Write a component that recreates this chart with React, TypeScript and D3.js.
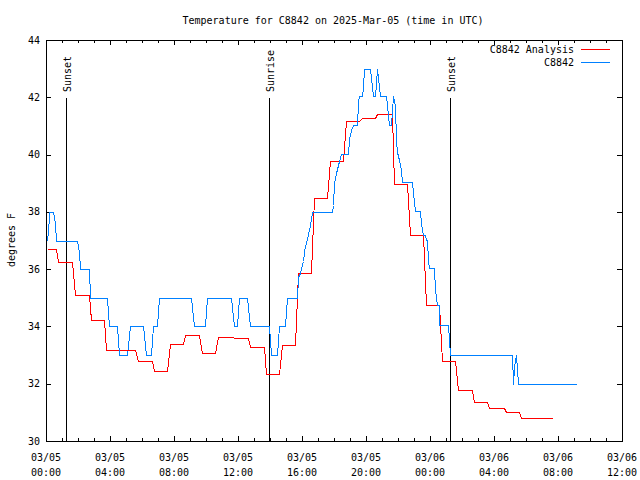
import React from 'react';
import * as d3 from 'd3';

const TITLE = 'Temperature for C8842 on 2025-Mar-05 (time in UTC)';
const Y_LABEL = 'degrees F';
const START = Date.UTC(2025, 2, 5, 0, 0);
const END = Date.UTC(2025, 2, 6, 12, 0);

// Observation series (C8842) — hours after 03/05 00:00 UTC
const obsHours = [
  0.08, 0.16, 0.21, 0.46, 0.54, 0.625, 1.96, 2.04, 2.125, 2.67, 2.75, 3.79, 3.94, 4.46, 4.58,
  5.08, 5.25, 6.08, 6.25, 6.58, 6.71, 6.92, 7.08, 9.06, 9.25, 9.94, 10.08, 11.58, 11.75, 11.96,
  12.08, 12.58, 12.75, 13.96, 14.06, 14.42, 14.58, 14.96, 15.04, 15.71, 15.77, 15.875, 15.94,
  16.08, 16.125, 16.19, 16.31, 16.5, 16.625, 17.89, 17.96, 18.0, 18.125, 18.29, 18.46, 18.875,
  18.96, 19.04, 19.17, 19.42, 19.5, 19.58, 19.75, 19.79, 19.89, 20.27, 20.42, 20.58, 20.71,
  20.86, 21.27, 21.42, 21.58, 21.71, 21.79, 21.875, 21.96, 22.04, 22.17, 22.25, 22.875, 22.96,
  23.04, 23.375, 23.46, 23.54, 23.71, 23.75, 23.83, 23.875, 23.96, 24.25, 24.33, 24.42, 24.54,
  24.58, 25.125, 25.25, 29.1, 29.21, 29.27, 29.36, 29.44, 29.53, 33.1,
];
const obsTemps = [
  37.0, 37.8, 38.0, 38.0, 37.6, 37.0, 37.0, 36.6, 36.0, 36.0, 35.0, 35.0, 34.0, 34.0, 33.0,
  33.0, 34.0, 34.0, 33.0, 33.0, 34.0, 34.0, 35.0, 35.0, 34.0, 34.0, 35.0, 35.0, 34.0, 34.0,
  35.0, 35.0, 34.0, 34.0, 33.0, 33.0, 34.0, 34.0, 35.0, 35.0, 35.74, 35.85, 36.03,
  36.3, 36.61, 36.8, 37.04, 37.54, 38.0, 38.0, 38.24, 39.02, 39.34, 39.77, 40.02, 40.02,
  40.53, 40.85, 41.03, 41.03, 41.84, 42.04, 42.04, 42.37, 43.0, 43.0, 42.04, 42.04, 43.0,
  42.04, 42.04, 41.03, 41.03, 42.04, 41.7, 40.5, 40.1, 39.8, 39.46, 39.04, 39.04, 38.67,
  38.04, 38.04, 37.6, 37.18, 37.18, 37.02, 37.02, 36.27, 36.03, 36.03, 35.27, 34.74, 34.74,
  34.04, 34.04, 33.01, 33.0, 32.0, 32.6, 33.0, 32.5, 32.0, 32.0,
];

// Analysis series (C8842 Analysis)
const anaHours = [
  0.08, 0.625, 0.77, 1.625, 1.79, 2.67, 2.79, 3.625, 3.78, 5.58, 5.75, 6.625, 6.75, 7.58, 7.75,
  8.58, 8.71, 9.58, 9.75, 10.56, 10.72, 11.67, 11.72, 12.61, 12.75, 13.64, 13.78, 14.58, 14.72,
  15.58, 15.72, 16.58, 16.72, 17.58, 17.75, 18.58, 18.72, 19.58, 19.73, 20.58, 20.71, 21.61,
  21.72, 22.58, 22.72, 23.58, 23.72, 24.58, 24.72, 25.58, 25.72, 26.61, 26.72, 27.58, 27.69,
  28.61, 28.72, 29.58, 29.71, 31.61,
];
const anaTemps = [
  36.69, 36.69, 36.25, 36.25, 35.08, 35.08, 34.22, 34.22, 33.18, 33.18, 32.78, 32.78, 32.43, 32.43, 33.39,
  33.39, 33.69, 33.69, 33.07, 33.07, 33.62, 33.62, 33.6, 33.6, 33.27, 33.27, 32.34, 32.34, 33.34,
  33.34, 35.85, 35.85, 38.47, 38.47, 39.77, 39.77, 41.18, 41.18, 41.27, 41.27, 41.41, 41.41,
  38.96, 38.96, 37.18, 37.18, 34.74, 34.74, 32.78, 32.78, 31.78, 31.78, 31.36, 31.36, 31.15,
  31.15, 31.01, 31.01, 30.8, 30.8,
];

const sunHours = [1.27, 13.96, 25.27];
const sunLabels = ['Sunset', 'Sunrise', 'Sunset'];

const yTicks = [30, 32, 34, 36, 38, 40, 42, 44];
const xTickDays = ['03/05', '03/05', '03/05', '03/05', '03/05', '03/05', '03/06', '03/06', '03/06', '03/06'];
const xTickTimes = ['00:00', '04:00', '08:00', '12:00', '16:00', '20:00', '00:00', '04:00', '08:00', '12:00'];

const seriesNames = ['C8842 Analysis', 'C8842'];
const seriesColors = ['#ff0000', '#0080ff'];

const W = 640;
const H = 480;
const L = 46;
const R = 622;
const T = 40;
const B = 441;
const FONT = '"DejaVu Sans Mono", "Liberation Mono", monospace';

const hourDate = (h: number) => new Date(START + h * 3600e3);

export default function App() {
  const x = d3.scaleUtc().domain([new Date(START), new Date(END)]).range([L, R]);
  const y = d3.scaleLinear().domain([30, 44]).range([B, T]);

  const majorTicks = d3.utcHour.every(4)!.range(new Date(START), new Date(END + 1));
  const minorTicks = d3.utcHour.every(1)!.range(new Date(START), new Date(END + 1));

  const line = d3
    .line<[number, number]>()
    .x((d) => Math.round(x(hourDate(d[0]))) + 0.5)
    .y((d) => Math.round(y(d[1])) + 0.5);

  const obs: [number, number][] = obsHours.map((h, i) => [h, obsTemps[i]]);
  const ana: [number, number][] = anaHours.map((h, i) => [h, anaTemps[i]]);

  const px = (v: number) => Math.round(v) + 0.5;

  return (
    <svg
      width={W}
      height={H}
      style={{ position: 'absolute', left: 0, top: 0, background: '#fff' }}
      fontFamily={FONT}
      fontSize={10}
    >
      <rect x={0} y={0} width={W} height={H} fill="#fff" />
      <text x={333} y={23.5} textAnchor="middle" fill="#000">
        {TITLE}
      </text>

      {/* minor x ticks */}
      <g stroke="#000" strokeWidth={1} shapeRendering="crispEdges">
        {minorTicks.map((d, i) => (
          <g key={'mn' + i}>
            <line x1={px(x(d))} x2={px(x(d))} y1={B} y2={B - 3} />
            <line x1={px(x(d))} x2={px(x(d))} y1={T} y2={T + 3} />
          </g>
        ))}
        {majorTicks.map((d, i) => (
          <g key={'mj' + i}>
            <line x1={px(x(d))} x2={px(x(d))} y1={B} y2={B - 5} />
            <line x1={px(x(d))} x2={px(x(d))} y1={T} y2={T + 5} />
          </g>
        ))}
        {yTicks.map((v) => (
          <g key={'yt' + v}>
            <line x1={L} x2={L + 5} y1={px(y(v))} y2={px(y(v))} />
            <line x1={R} x2={R - 5} y1={px(y(v))} y2={px(y(v))} />
          </g>
        ))}
      </g>

      {/* y tick labels */}
      {yTicks.map((v) => (
        <text key={'yl' + v} x={40} y={y(v)} dy="0.35em" textAnchor="end" fill="#000">
          {v}
        </text>
      ))}

      {/* x tick labels */}
      {majorTicks.map((d, i) => (
        <g key={'xl' + i}>
          <text x={x(d)} y={461} textAnchor="middle" fill="#000">
            {xTickDays[i]}
          </text>
          <text x={x(d)} y={476} textAnchor="middle" fill="#000">
            {xTickTimes[i]}
          </text>
        </g>
      ))}

      <text transform={`translate(15,240) rotate(-90)`} textAnchor="middle" fill="#000">
        {Y_LABEL}
      </text>

      {/* sunrise / sunset markers */}
      {sunHours.map((h, i) => {
        const sx = px(x(hourDate(h)));
        return (
          <g key={'sun' + i}>
            <line x1={sx} x2={sx} y1={98} y2={B} stroke="#000" shapeRendering="crispEdges" />
            <text transform={`translate(${sx + 4},92) rotate(-90)`} textAnchor="start" fill="#000">
              {sunLabels[i]}
            </text>
          </g>
        );
      })}

      {/* data */}
      <path d={line(ana) || ''} fill="none" stroke={seriesColors[0]} strokeWidth={1} shapeRendering="crispEdges" />
      <path d={line(obs) || ''} fill="none" stroke={seriesColors[1]} strokeWidth={1} shapeRendering="crispEdges" />

      {/* legend */}
      {seriesNames.map((n, i) => {
        const ly = i === 0 ? 49.5 : 62.5;
        return (
          <g key={'lg' + i}>
            <text x={574} y={ly} dy="0.35em" textAnchor="end" fill="#000">
              {n}
            </text>
            <line x1={581} x2={610} y1={ly} y2={ly} stroke={seriesColors[i]} shapeRendering="crispEdges" />
          </g>
        );
      })}

      {/* frame */}
      <rect x={L + 0.5} y={T + 0.5} width={R - L} height={B - T} fill="none" stroke="#000" shapeRendering="crispEdges" />
    </svg>
  );
}
